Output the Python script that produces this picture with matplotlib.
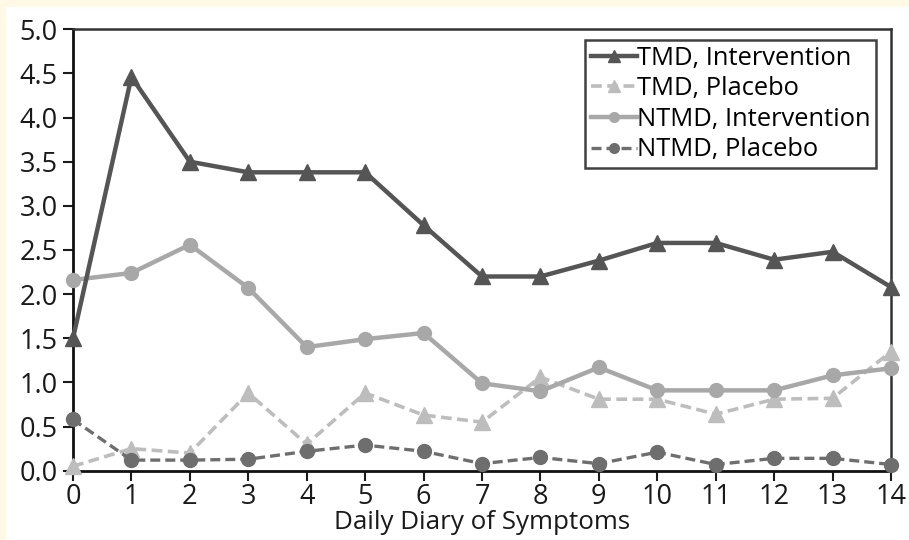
import matplotlib
matplotlib.use("Agg")
import matplotlib.pyplot as plt
from matplotlib.patches import Rectangle

days = list(range(15))
tmd_intervention = [1.5, 4.46, 3.5, 3.38, 3.38, 3.38, 2.78, 2.2, 2.2, 2.38, 2.58, 2.58, 2.39, 2.48, 2.08]
tmd_placebo = [0.05, 0.25, 0.2, 0.88, 0.3, 0.88, 0.63, 0.55, 1.06, 0.81, 0.81, 0.64, 0.81, 0.82, 1.35]
ntmd_intervention = [2.16, 2.24, 2.56, 2.07, 1.4, 1.49, 1.56, 0.99, 0.9, 1.17, 0.91, 0.91, 0.91, 1.08, 1.16]
ntmd_placebo = [0.58, 0.12, 0.12, 0.13, 0.22, 0.29, 0.22, 0.08, 0.15, 0.08, 0.21, 0.07, 0.14, 0.14, 0.07]
yticks = [0.0, 0.5, 1.0, 1.5, 2.0, 2.5, 3.0, 3.5, 4.0, 4.5, 5.0]
labels = ["TMD, Intervention", "TMD, Placebo", "NTMD, Intervention", "NTMD, Placebo"]

plt.rcParams['font.family'] = ['Open Sans', 'DejaVu Sans']

W, H = 909, 540
fig = plt.figure(figsize=(W / 100, H / 100), dpi=100)
fig.patch.set_facecolor('#FFF9E6')
bg = Rectangle((6 / W, 0), 1, 1 - 7 / H, transform=fig.transFigure,
               facecolor='white', edgecolor='none', zorder=-10)
fig.add_artist(bg)

ax_top, ax_bot = 29.3, 470.7
ax = fig.add_axes([73 / W, 1 - ax_bot / H, (891 - 73) / W, (ax_bot - ax_top) / H])
ax.set_facecolor('white')
ax.set_zorder(1)

ax.plot(days, tmd_intervention, color='#555555', lw=3.2, marker='^', ms=12,
        label=labels[0], clip_on=False, zorder=5)
ax.plot(days, tmd_placebo, color='#bdbdbd', lw=2.6, ls=(0, (3, 1.5)), marker='^', ms=12,
        label=labels[1], clip_on=False, zorder=3)
ax.plot(days, ntmd_intervention, color='#a8a8a8', lw=3.2, marker='o', ms=10,
        label=labels[2], clip_on=False, zorder=4)
ax.plot(days, ntmd_placebo, color='#6e6e6e', lw=2.4, ls=(0, (3, 1.5)), marker='o', ms=10,
        label=labels[3], clip_on=False, zorder=4)

ax.set_xlim(0, 14)
ax.set_ylim(0, 5)
ax.set_xticks(days)
ax.set_xticklabels([str(d) for d in days])
ax.set_yticks(yticks)
ax.set_yticklabels([f"{v:.1f}" for v in yticks])
ax.tick_params(axis='both', labelsize=19.5, colors='#1a1a1a', length=7, width=1.5,
               direction='out')
ax.tick_params(axis='y', pad=4)
ax.tick_params(axis='x', pad=2)
for s in ['left', 'bottom']:
    ax.spines[s].set_linewidth(2)
    ax.spines[s].set_color('#111111')
for s in ['top', 'right']:
    ax.spines[s].set_linewidth(1.8)
    ax.spines[s].set_color('#333333')

ax.set_xlabel("Daily Diary of Symptoms", fontsize=18.7, color='#1a1a1a')
ax.xaxis.label.set_va('baseline')
ax.xaxis.set_label_coords(0.5, (ax_bot - 529) / (ax_bot - ax_top))

leg = ax.legend(loc='upper right', bbox_to_anchor=(0.9817, 0.9758), fontsize=18.4,
                frameon=True, fancybox=False, edgecolor='#111111', handlelength=1.8,
                handletextpad=0.0, labelspacing=0.22, borderpad=0.22, markerscale=0.7,
                borderaxespad=0)
leg.get_frame().set_linewidth(1.8)
leg.set_zorder(10)

fig.savefig("out.png", dpi=100, facecolor=fig.get_facecolor())
